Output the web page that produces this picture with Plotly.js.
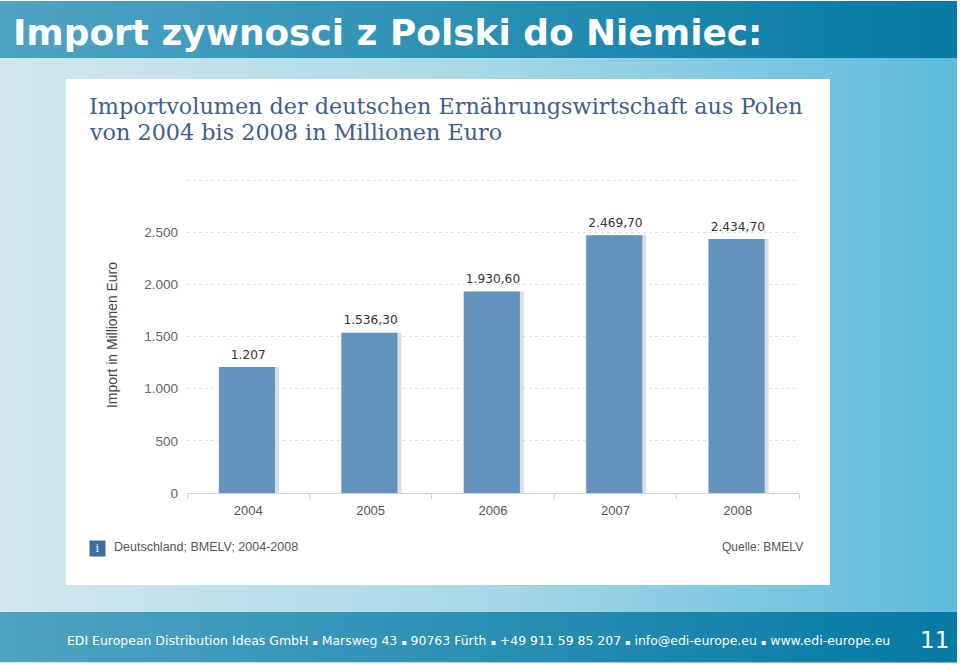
<!DOCTYPE html>
<html><head><meta charset="utf-8">
<script src="https://cdn.plot.ly/plotly-3.0.1.min.js"></script>
<style>
html,body{margin:0;padding:0;width:960px;height:664px;overflow:hidden;background:#fff}
#bg{position:absolute;left:0;top:1px;width:957px;height:662px;background:linear-gradient(90deg,#d3e7ef 0%,#a9d8e8 50%,#5dbbdc 100%)}
#hd{position:absolute;left:0;top:1px;width:957px;height:57px;background:linear-gradient(90deg,#4fa3c3 0%,#2a90b4 50%,#0679a4 100%)}
#ft{position:absolute;left:0;top:612px;width:957px;height:50px;background:linear-gradient(90deg,#4fa3c3 0%,#2a90b4 50%,#0679a4 100%)}
#panel{position:absolute;left:66px;top:79px;width:764px;height:506px;background:#fff}
#chart{position:absolute;left:0;top:0;width:960px;height:664px}
</style></head><body>
<div id="bg"></div><div id="hd"></div><div id="ft"></div><div id="panel"></div>
<div id="chart"></div>
<script>
var years = ['2004','2005','2006','2007','2008'];
var values = [1207, 1536.3, 1930.6, 2469.7, 2434.7];
var valueLabels = ['1.207','1.536,30','1.930,60','2.469,70','2.434,70'];
var yTickVals = [0,500,1000,1500,2000,2500,3000];
var yTickText = ['0','500','1.000','1.500','2.000','2.500',''];

var L=187,R=799,T=179,B=493;
function X(p){return (p-L)/(R-L);}
function Y(p){return (B-p)/(B-T);}
function note(text,x,y,size,color,family,xa,extra){
  var a={text:text,xref:'paper',yref:'paper',x:X(x),y:Y(y),xanchor:xa||'left',yanchor:'middle',
    showarrow:false,font:{size:size,color:color,family:family}};
  for(var k in (extra||{}))a[k]=extra[k];
  return a;
}
var sans='"DejaVu Sans"', serif='"DejaVu Serif"', lib='"Liberation Sans"';
var dot=' <span style="font-size:8px">▪</span> ';
var annotations=[
  note('<b>Import zywnosci z Polski do Niemiec:</b>',11,32,35.9,'#ffffff',sans),
  note('Importvolumen der deutschen Ernährungswirtschaft aus Polen',87,106,22.3,'#3f6088',serif),
  note('von 2004 bis 2008 in Millionen Euro',87,132,22.3,'#3f6088',serif),
  note('Import in Millionen Euro',112,335,13.9,'#444444',lib,'center',{textangle:-90}),
  note('i',97.5,548,11,'#ffffff',serif,'center',{bgcolor:'#3f6d9e',width:15,height:15,borderpad:0}),
  note('Deutschland; BMELV; 2004-2008',112,546.5,12.5,'#555555',lib),
  note('Quelle: BMELV',805,546.5,12,'#555555',lib,'right'),
  note('EDI European Distribution Ideas GmbH'+dot+'Marsweg 43'+dot+'90763 Fürth'+dot+'+49 911 59 85 207'+dot+'info@edi-europe.eu'+dot+'www.edi-europe.eu',65,640,12.46,'#ffffff',sans),
  note('11',951,640,23,'#ffffff',sans,'right')
];
var data=[
  {type:'bar',x:years,y:values,width:0.495,offset:-0.243,marker:{color:'#d8dfe7',line:{width:0}},hoverinfo:'skip'},
  {type:'bar',x:years,y:values,width:0.4575,offset:-0.238,marker:{color:'#6193bd',line:{width:0}},hoverinfo:'skip'},
  {type:'scatter',mode:'markers+text',x:years,y:values,text:valueLabels,textposition:'top center',
   marker:{size:7,opacity:0},cliponaxis:false,textfont:{family:sans,size:12.2,color:'#333333'},hoverinfo:'skip'}
];
var layout={
  width:960,height:664,autosize:false,showlegend:false,barmode:'overlay',
  paper_bgcolor:'rgba(0,0,0,0)',plot_bgcolor:'rgba(0,0,0,0)',
  margin:{l:L,r:960-R,t:T,b:664-B,pad:0},
  xaxis:{type:'category',tickson:'boundaries',ticks:'outside',ticklen:5,tickcolor:'#ccd3dc',tickwidth:1,
    showline:true,linecolor:'#ccd3dc',linewidth:1,showgrid:false,ticklabelstandoff:5,
    tickfont:{family:lib,size:13,color:'#555555'},fixedrange:true},
  yaxis:{range:[0,3010],tickmode:'array',tickvals:yTickVals,ticktext:yTickText,ticks:'',
    showline:false,zeroline:false,showgrid:true,gridcolor:'#e2e2e2',griddash:'dot',gridwidth:1,ticklabelstandoff:8,
    tickfont:{family:lib,size:13.5,color:'#666666'},fixedrange:true},
  annotations:annotations
};
Plotly.newPlot('chart',data,layout,{staticPlot:true,displayModeBar:false});
</script>
</body></html>
